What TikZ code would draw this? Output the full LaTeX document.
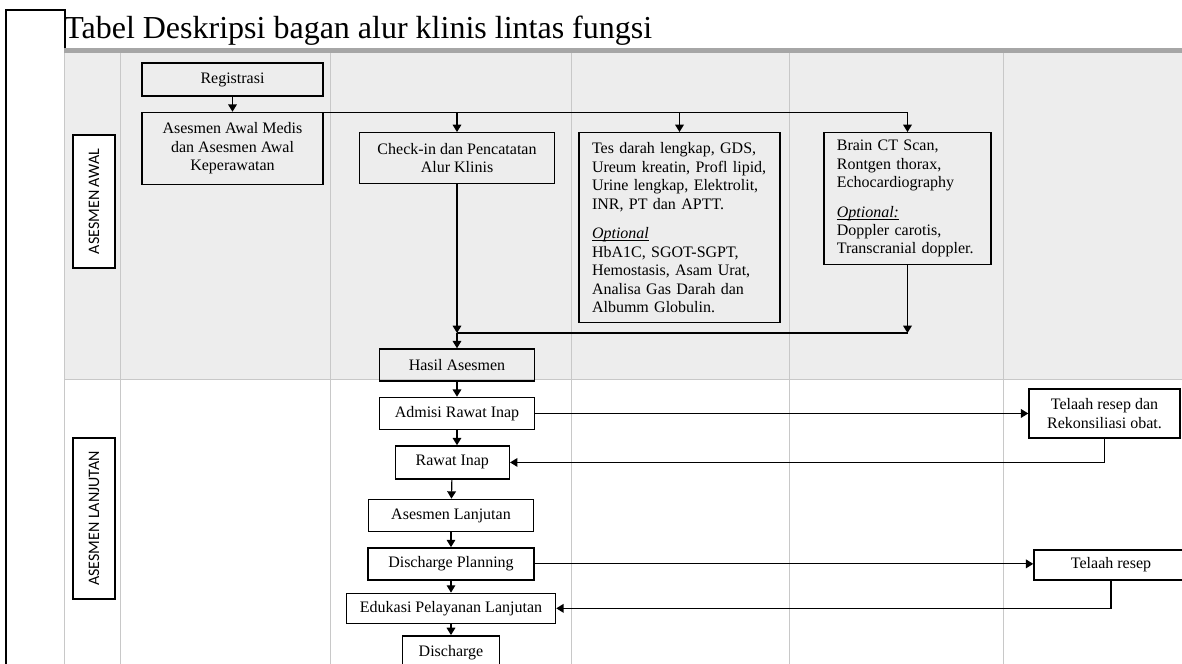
\documentclass[tikz,border=0pt]{standalone}
\usepackage{fontspec}
\setmainfont{Liberation Serif}
\newfontfamily\lanefont{Carlito}
\usetikzlibrary{arrows.meta,positioning}
\definecolor{LaneGray}{HTML}{EDEDED}
\definecolor{BarGray}{HTML}{A6A6A6}
\definecolor{GridGray}{HTML}{C8C8C8}
\tikzset{
  box/.style={draw=black,line width=1.1pt,align=center,inner sep=0pt,font=\fontsize{12pt}{13.8pt}\selectfont},
  listbox/.style={box,align=left,anchor=north},
  lanebox/.style={draw=black,fill=white,line width=.8pt,rotate=90,inner sep=0pt,minimum height=31.5pt,font=\lanefont\fontsize{12pt}{14pt}\selectfont},
  flow/.style={-{Triangle[length=5.5pt,width=6.5pt]},draw=black,line width=.9pt},
  plainline/.style={draw=black,line width=.9pt},
  gridline/.style={draw=GridGray,line width=.6pt}
}
\newcommand{\optlabel}[1]{\underline{\smash{\textit{#1}}}}

\begin{document}
\begin{tikzpicture}[x=.75pt,y=-.75pt]
      \useasboundingbox (0,0) rectangle (1182,664);
      \clip (0,0) rectangle (1182,664);
      \fill[LaneGray] (64,53) rectangle (1182,379);
      \fill[BarGray] (64,48) rectangle (1182,53);
      \foreach \x in {64,120,330,571,789,1003}
        \draw[gridline] (\x,53) -- (\x,664);
      \draw[gridline] (64,379) -- (1182,379);
      \draw[line width=1.3pt] (65,48) |- (6,10) -- (6,664);
      \node[anchor=base west,inner sep=0pt,font=\fontsize{24pt}{28pt}\selectfont] (title) at (64,38) {Tabel Deskripsi bagan alur klinis lintas fungsi};

      \node[lanebox,minimum width=99.75pt] (lanea) at (94,201.5) {ASESMEN AWAL};
      \node[lanebox,minimum width=120.75pt] (laneb) at (94,518.5) {ASESMEN LANJUTAN};

      \node[box,minimum width=135.75pt,minimum height=24.75pt] (reg) at (232.5,79.5) {Registrasi};
      \node[box,minimum width=135.75pt,minimum height=54pt,below=11.25pt of reg] (awal) {Asesmen Awal Medis\\dan Asesmen Awal\\Keperawatan};
      \node[box,minimum width=146.25pt,minimum height=38.25pt,anchor=north] (checkin) at (457,132) {Check-in dan Pencatatan\\Alur Klinis};
      \node[listbox,text width=131.25pt,minimum height=142.5pt,inner xsep=9.75pt] (tes) at (679.5,132) {Tes darah lengkap, GDS,\\Ureum kreatin, Profl lipid,\\Urine lengkap, Elektrolit,\\INR, PT dan APTT.\\[8.5pt]\optlabel{Optional}\\HbA1C, SGOT-SGPT,\\Hemostasis, Asam Urat,\\Analisa Gas Darah dan\\Albumm Globulin.};
      \node[listbox,text width=106pt,minimum height=99pt,inner xsep=9.6pt] (ct) at (907.5,132) {Brain CT Scan,\\Rontgen thorax,\\Echocardiography\\[8.5pt]\optlabel{Optional:}\\Doppler carotis,\\Transcranial doppler.};
      \draw[flow] (reg) -- (awal);
      \coordinate (split) at ([yshift=-.75pt]awal.north east);
      \draw[flow] (split) -| (ct.north);
      \draw[flow] (split -| checkin.north) -- (checkin.north);
      \draw[flow] (split -| tes.north) -- (tes.north);

      \node[box,minimum width=116.25pt,minimum height=24pt] (hasil) at (457,365) {Hasil Asesmen};
      \coordinate (merge) at (checkin.south |- 0,333);
      \draw[flow] (checkin.south) -- (merge);
      \draw[flow] (ct.south) -- (ct.south |- merge);
      \draw[plainline] (ct.south |- merge) -- (merge);
      \draw[flow] (merge) -- (hasil.north);

      \node[box,minimum width=116.25pt,minimum height=24pt,below=11.25pt of hasil] (admisi) {Admisi Rawat Inap};
      \node[box,minimum width=85.5pt,minimum height=24.75pt,below=11.25pt of admisi,xshift=-3.5pt] (rawat) {Rawat Inap};
      \node[box,minimum width=123.75pt,minimum height=24pt,below=14.25pt of rawat,xshift=-1pt] (lanjut) {Asesmen Lanjutan};
      \node[box,minimum width=124.5pt,minimum height=24pt,below=11.25pt of lanjut] (dplan) {Discharge Planning};
      \node[box,minimum width=156.75pt,minimum height=22.5pt,below=9pt of dplan] (edukasi) {Edukasi Pelayanan Lanjutan};
      \node[box,minimum width=72.75pt,minimum height=24.75pt,below=8.25pt of edukasi] (dischg) {Discharge};
      \node[box,minimum width=113.25pt,minimum height=36.75pt] (telaah) at (1104.5,413.5) {Telaah resep dan\\Rekonsiliasi obat.};
      \node[box,minimum width=115.5pt,minimum height=22.5pt] (telaahb) at (1111,565) {Telaah resep};
      \draw[flow] (hasil) -- (admisi);
      \draw[flow] (admisi.south) -- (admisi.south |- rawat.north);
      \draw[flow] (rawat) -- (lanjut);
      \draw[flow] (lanjut) -- (dplan);
      \draw[flow] (dplan) -- (edukasi);
      \draw[flow] (edukasi) -- (dischg);
      \draw[flow] (admisi.east) -- (admisi.east -| telaah.west);
      \draw[flow] (telaah.south) |- (rawat.east);
      \draw[flow] (dplan.east) -- (dplan.east -| telaahb.west);
      \draw[flow] (telaahb.south) |- (edukasi.east);
    \end{tikzpicture}
\end{document}
